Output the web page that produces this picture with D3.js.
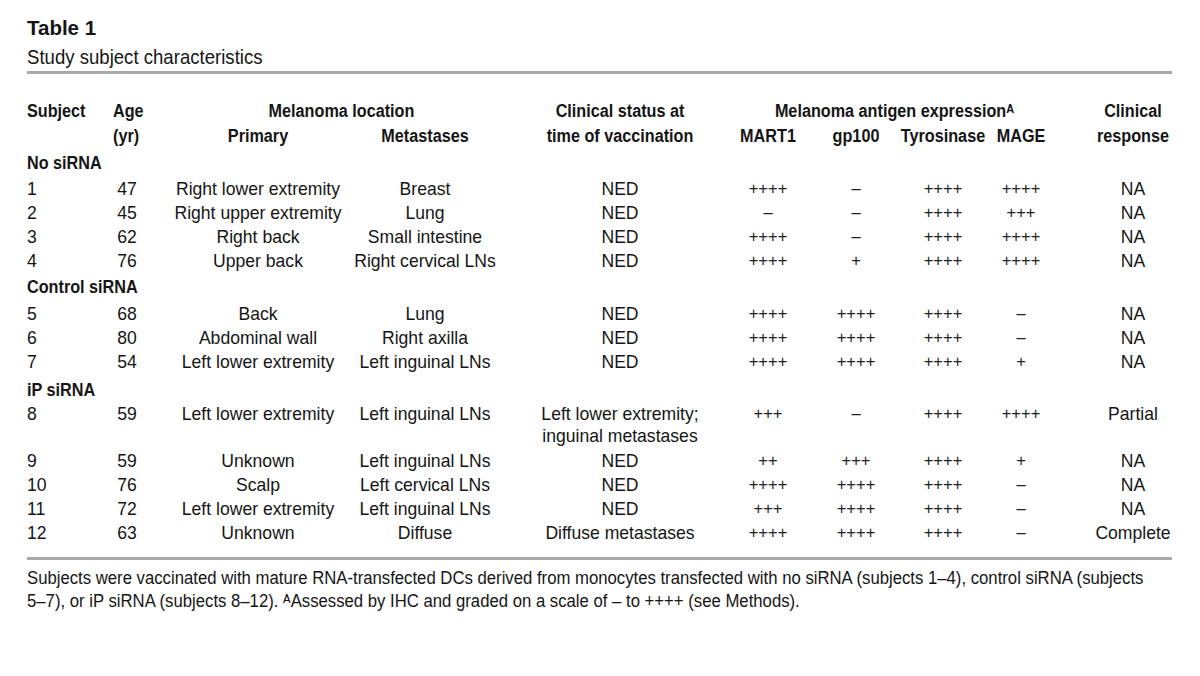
<!DOCTYPE html>
<html><head><meta charset="utf-8">
<script src="https://cdn.jsdelivr.net/npm/d3@7"></script>
<style>
html,body{margin:0;padding:0;background:#fff;}
svg text{font-family:"Liberation Sans",Arial,Helvetica,"DejaVu Sans",sans-serif;fill:#151515;}
</style></head>
<body><svg id="chart" width="1200" height="676"></svg>
<script>
const title = "Table 1";
const subtitle = "Study subject characteristics";
const groups = ["No siRNA", "Control siRNA", "iP siRNA"];
const subjects = ["1","2","3","4","5","6","7","8","9","10","11","12"];
const ages = ["47","45","62","76","68","80","54","59","59","76","72","63"];
const primary = ["Right lower extremity","Right upper extremity","Right back","Upper back","Back","Abdominal wall","Left lower extremity","Left lower extremity","Unknown","Scalp","Left lower extremity","Unknown"];
const metastases = ["Breast","Lung","Small intestine","Right cervical LNs","Lung","Right axilla","Left inguinal LNs","Left inguinal LNs","Left inguinal LNs","Left cervical LNs","Left inguinal LNs","Diffuse"];
const status = ["NED","NED","NED","NED","NED","NED","NED","Left lower extremity;|inguinal metastases","NED","NED","NED","Diffuse metastases"];
const mart1 = ["++++","–","++++","++++","++++","++++","++++","+++","++","++++","+++","++++"];
const gp100 = ["–","–","–","+","++++","++++","++++","–","+++","++++","++++","++++"];
const tyrosinase = ["++++","++++","++++","++++","++++","++++","++++","++++","++++","++++","++++","++++"];
const mage = ["++++","+++","++++","++++","–","–","+","++++","+","–","–","–"];
const response = ["NA","NA","NA","NA","NA","NA","NA","Partial","NA","NA","NA","Complete"];
const footnote1 = "Subjects were vaccinated with mature RNA-transfected DCs derived from monocytes transfected with no siRNA (subjects 1–4), control siRNA (subjects";
const footnote2 = "5–7), or iP siRNA (subjects 8–12). ᴬAssessed by IHC and graded on a scale of – to ++++ (see Methods).";
const antigenHeader = "Melanoma antigen expressionᴬ";

const svg = d3.select("#chart");

const colKeys = ["subject","age","primary","metastases","status","mart1","gp100","tyrosinase","mage","response"];
const colX = d3.scaleOrdinal().domain(colKeys).range([27,127,258,425,620,768,856,943,1021,1133]);
const colData = {subject:subjects, age:ages, primary, metastases, status, mart1, gp100, tyrosinase, mage, response};
const symCols = ["mart1","gp100","tyrosinase","mage"];

function ctext(parent, x, y, str, o) {
  o = o || {};
  const t = parent.append("text").attr("x", x).attr("y", y)
    .attr("text-anchor", o.anchor || "start")
    .style("font-size", (o.size || 18.5) + "px")
    .style("font-weight", o.bold ? "bold" : "normal")
    .text(str);
  const w = t.node().getComputedTextLength();
  const sq = o.squeeze === undefined ? 0.95 : o.squeeze;
  if (sq !== 1) t.attr("textLength", w * sq).attr("lengthAdjust", "spacingAndGlyphs");
  t.w = w * sq;
  return t;
}

const BOLD = {bold:true, size:18, squeeze:0.9};
const BODY = {size:18.5, squeeze:0.95};

ctext(svg, 27, 35, title, {bold:true, size:20.5, squeeze:1});
ctext(svg, 27, 64, subtitle, {size:21, squeeze:0.885});

const ruleColor = "#a9a9a9";
svg.append("rect").attr("x",27).attr("y",71).attr("width",1145).attr("height",3).attr("fill",ruleColor);

const hdr = svg.append("g");
const h1 = 117, h2 = 142;
const M = (o)=>Object.assign({}, BOLD, {anchor:"middle"}, o||{});
ctext(hdr, 27, h1, "Subject", BOLD);
ctext(hdr, 113, h1, "Age", BOLD);
ctext(hdr, 113, h2, "(yr)", BOLD);
ctext(hdr, (colX("primary")+colX("metastases"))/2, h1, "Melanoma location", M());
ctext(hdr, colX("primary"), h2, "Primary", M());
ctext(hdr, colX("metastases"), h2, "Metastases", M());
ctext(hdr, colX("status"), h1, "Clinical status at", M());
ctext(hdr, colX("status"), h2, "time of vaccination", M());
ctext(hdr, (colX("mart1") + colX("mage")) / 2, h1, antigenHeader, M());
[["mart1","MART1"],["gp100","gp100"],["tyrosinase","Tyrosinase"],["mage","MAGE"]].forEach(([k,s])=>{
  ctext(hdr, colX(k), h2, s, M());
});
ctext(hdr, colX("response"), h1, "Clinical", M());
ctext(hdr, colX("response"), h2, "response", M());

const groupY = [169, 293, 396];
const rowY = [195,219,243,267, 320,344,368, 420,467,491,515,539];
const body = svg.append("g");
groups.forEach((g,i)=> ctext(body, 27, groupY[i], g, BOLD));
subjects.forEach((s,i)=>{
  colKeys.forEach(k=>{
    const val = colData[k][i];
    const anchor = k === "subject" ? "start" : "middle";
    if (symCols.includes(k)) {
      ctext(body, colX(k), rowY[i] - 1, val, {anchor, size:16.5, squeeze:1}).style("fill","#222");
    } else {
      val.split("|").forEach((p,j)=>{
        ctext(body, colX(k), rowY[i] + j*22, p, Object.assign({}, BODY, {anchor}));
      });
    }
  });
});

svg.append("rect").attr("x",27).attr("y",557).attr("width",1145).attr("height",3).attr("fill",ruleColor);

const fn = svg.append("g");
const FN = {size:17.5, squeeze:0.955};
ctext(fn, 27, 584, footnote1, FN);
ctext(fn, 27, 607, footnote2, FN);
</script></body></html>
